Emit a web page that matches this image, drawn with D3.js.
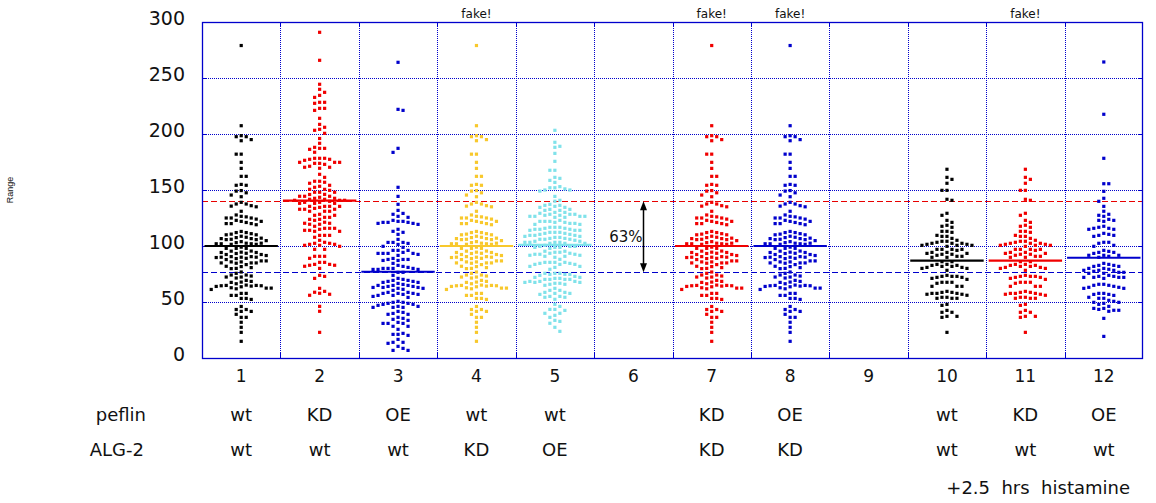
<!DOCTYPE html>
<html>
<head>
<meta charset="utf-8">
<script src="https://cdn.jsdelivr.net/npm/d3@7/dist/d3.min.js"></script>
<style>
  html, body { margin: 0; padding: 0; background: #fff; }
  svg { display: block; }
  text { font-family: "DejaVu Sans", sans-serif; fill: #111; }
</style>
</head>
<body>
<svg id="chart" width="1156" height="503"></svg>
<script>
// ---------- DATA ----------
const groups = ["1","2","3","4","5","6","7","8","9","10","11","12"];
const peflinRow = ["wt","KD","OE","wt","wt","","KD","OE","","wt","KD","OE"];
const alg2Row   = ["wt","wt","wt","KD","OE","","KD","KD","","wt","wt","wt"];
const fakeGroups = ["4","7","8","11"];
const yTicks = [0, 50, 100, 150, 200, 250, 300];
const meanValues = [100, 140.5, 77, 100, 101, null, 100, 100, null, 87, 87, 89.5];
const refHigh = 140;   // red dashed reference
const refLow = 76.5;   // blue dashed reference
const annotation = "63%";

const wtValues = [279, 207.4, 198.5, 197.6, 197.6, 194, 195, 182, 182, 174.7, 169.3, 162.2, 162.2, 155, 154.2, 154.2,
  149.5, 149, 147.5, 145.5, 144, 139, 137.5, 137.5, 136, 135.6, 135, 131, 127.7, 126, 125, 124, 125, 125, 126.5,
  122.9, 122, 120, 120, 119, 120, 121, 122, 112, 111, 110, 110.6, 112, 113, 110, 107.5, 107, 106.6, 105.7, 104.8,
  103.9, 105.7, 106, 106.6, 107.8, 108.7, 102.5, 101.5, 103, 102, 102, 101.5, 102, 102.5, 95.5, 94.2, 94.2, 93.3,
  92.4, 97.9, 97.9, 97.9, 99, 92.4, 93.5, 94.5, 95.4, 90.5, 90, 90, 90.5, 91.5, 90, 89, 86.7, 85.8, 83.4, 84.9, 84.9,
  84.9, 85.8, 86.7, 87.9, 84.6, 88.8, 89.7, 81.6, 80, 79.8, 80.7, 81.9, 75.6, 74.1, 72.3, 71.4, 72.3, 73.2, 74.1, 76.8,
  69.3, 67.5, 66.3, 64.5, 64.5, 63.6, 63.9, 64.2, 64.8, 64.8, 65.1, 67.8, 68.4, 62.4, 61.8, 61.2, 62.4, 62.7, 57.7,
  55.9, 53.2, 52.3, 53.2, 55.9, 57.7, 46, 41.6, 43.3, 43.3, 41.6, 39, 36.3, 36.3, 31.9, 27.4, 22.9, 14.9];

const peflinKDValues = [290.8, 265.8, 244.4, 237.2, 239.9, 234.5, 232.7, 228.3, 227.4, 228.3, 222.9, 221.1, 222.9, 214,
  208.6, 206, 204.2, 203.3, 200.6, 196, 191.7, 188.1, 187.2, 187.2, 186.3, 183.7,
  178.3, 178.3, 177.4, 176.5, 177.4, 178.3, 174.7, 173.8, 172.9, 170.3, 169.4, 170.3, 171.2, 173.8, 174.7, 174.7,
  164, 161.3, 157.8, 156, 156.9, 157.8, 154.2, 152.4, 150.6, 149.7, 150.6, 153.3,
  148, 146, 144.4, 144.4, 142.6, 142.6, 143.5, 144.4, 146.1, 148, 148,
  141.7, 140.8, 139, 138.1, 138.1, 138.1, 139, 139.9, 140.8, 140.8, 141.7,
  135.4, 134.5, 132.8, 132.8, 131, 131, 131, 132.8, 133.6, 135.4, 135.4, 135.4,
  128.3, 127.4, 125.6, 123.8, 122.9, 123.8, 125.6, 127.4,
  120.3, 119.4, 117.6, 115.8, 115.8, 115.8, 119.4, 120.3, 121.2,
  114, 113.1, 109.5, 109.5, 109.5, 113.1, 114, 114.9,
  107.8, 103.3, 102.4, 105.1, 100.6, 101.5, 102.4, 101.5, 100.6, 99.7, 97, 97,
  90.8, 89, 90.8, 90.8, 83.6, 82.8, 85.4, 85.4, 80, 81.9, 82.8, 83.6,
  73.8, 71.1, 72.9, 62.2, 59.5, 57.8, 56, 56.9, 58.7, 46.1, 41.7, 22.9];

const peflinOEValues = [264, 222, 221.1, 187.2, 183.6, 152.4, 144.3, 137.2,
  131.8, 128.3, 126.5, 129.1, 125.6,
  122.9, 122, 121.1, 120.2, 119.3, 120.2, 121.1, 121.1, 122,
  114.9, 112.2, 110.4, 113.1,
  105.9, 103.2, 102.3, 99.7, 98.8, 101.4, 103.2, 103.2,
  96.1, 94.3, 93.4, 92.5, 91.6, 93.4, 93.4, 93.4, 96.1, 96.1,
  88.9, 88, 87.1, 84.5, 87.1, 88, 88,
  82.7, 80.9, 80, 80, 79.1, 79.1, 79.1, 80, 80, 81.8, 76.5, 73.8, 76.5,
  70.2, 69.3, 68.4, 67.5, 66.6, 67.5, 68.4, 69.3, 71.1,
  64.8, 64.8, 63.9, 63, 62.2, 61.3, 60.4, 62.2, 63, 63, 63.9, 64.8, 65.7,
  57.7, 57.7, 56.8, 55.9, 55, 54.1, 55.9, 56.8, 57.7, 58.6, 58.6,
  49.7, 48.8, 47.9, 47, 47.9, 48.8, 49.7, 50.6, 46.1, 45.2, 46.1, 45.2, 45.2,
  41.6, 39.8, 39, 40.7, 39, 35.4, 34.5, 36.3, 30.9, 33.6, 31.8, 30.9, 28.3, 28.3, 30.9, 25.6,
  22, 21.1, 20.2, 21.1, 16.6, 14, 13.1, 14, 10.4, 6.8, 6.8, 8.6];

const alg2OEValues = [203.3, 192.6, 188.1, 189, 182.7, 175.6, 167.6, 167.6, 160.4, 158.6, 161.3, 156.8,
  153, 152, 151, 150, 152, 150, 149, 144.3,
  140, 140.8, 136.3, 135.4, 134.5, 132.7, 131.8, 137.2, 131.8, 132.7, 134.5, 136.3,
  130, 128.3, 127.4, 126.5, 126.5, 125.6, 125.6, 126.5, 127.4, 126.5, 128.3, 128.3, 129.2, 130,
  122, 122, 121.1, 120.2, 119.3, 119.3, 120.2, 121.1, 122, 122.9,
  116.7, 115.8, 114.9, 114, 114, 114, 114.9, 115.8, 114.9, 116.7, 116.7,
  112.2, 111.3, 109.5, 109.5, 108.6, 107.7, 107.7, 108.6, 109.5, 110.4, 110.4, 111.3, 112.2, 112.2,
  106.8, 106, 104.2, 103.3, 103.3, 102.4, 102.4, 102.4, 103.3, 103.3, 104.2, 105.1, 106, 106, 106.8,
  95.3, 94.4, 93.5, 92.6, 92.6, 99.7, 98.8, 100.6, 98.8, 99.7, 99.7, 98.8, 97.9, 94.4, 95.3,
  91.7, 90.8, 89.9, 90.8, 91.7, 92.6, 93.5,
  81.8, 80.9, 85.4, 84.5, 83.6, 83.6, 83.6, 84.5, 85.4, 85.4, 85.4, 79.2, 81.8, 88.1,
  75.6, 74.7, 74.7, 73.8, 72, 71.1, 70.2, 71.1, 72, 72.9, 74.7, 75.6, 75.6, 70.2, 70.2, 70.2,
  68.4, 68.4, 67.5, 66.7, 65.8, 64.9, 65.8, 66.7, 67.5, 67.5, 68.4,
  62.2, 60.4, 58.6, 57.7, 58.6, 60.4, 57.7, 56.8, 55, 54.2, 52.4, 54.2, 55,
  47.9, 46.1, 43.4, 43.4, 42.5, 39.9, 38.1, 39.9, 36.3, 33.6, 31, 32.7, 27.4, 23.8];

const histWtValues = [168.5, 161.3, 159.5, 156, 149.7, 149.7, 141.7, 140.8, 129.2, 127.4, 122.9, 121.1, 118.5,
  117.6, 116.7, 113.1, 113.1, 112.2, 109.5, 108.6, 108.6, 106.8, 105.1, 104.2, 104.2,
  103.3, 102.4, 102.4, 102.4, 101.5, 101.5, 100.6, 100.6, 100.6, 99.7,
  97, 97, 97, 97, 96.1, 94.3, 94.3, 93.4, 93.4, 92.6, 92.6, 91.7, 90.8, 90.8, 89.9, 89.9,
  86, 86, 83.6, 83.6, 82.7, 82.7, 81.8, 81.8, 80.9, 80.9, 80, 80, 78.3,
  73.8, 72.9, 72.9, 72.9, 72, 72, 71.1, 70.2, 67.6, 67.6, 67.6, 66.7, 64, 64, 64,
  59.5, 58.6, 58.6, 57.7, 57.7, 57.7, 56.9, 56.9, 56, 54.2, 54.2, 53.3, 53.3, 53.3,
  47.9, 47, 42.5, 40.8, 40.8, 37.2, 37.2, 36.3, 22.9];

const histOEValues = [264.3, 217.6, 178.3, 155.6, 155.6, 148.8, 142.6, 139.9, 135.4, 131, 128.3, 126.5, 127.4,
  122.9, 122, 122.9, 123.8, 117.6, 115.8, 114.9, 114.9, 115.8, 116.7, 110.4, 109.5, 108.6, 109.5, 111.3,
  103.3, 102.4, 100.6, 103.3, 99.7, 93.4, 91.7, 89.9, 90.8, 94.3, 95.2, 94.3, 91.7, 91.7, 96.1,
  80, 78.3, 77.4, 76.5, 75.6, 75.6, 76.5, 78.3, 78.3, 79.2, 80, 84.5, 82.7, 81.8, 81.8, 82.7, 83.6,
  72, 72, 72, 71.1, 72, 72.9, 72.9, 73.8, 65.8, 64.9, 63.1, 62.2, 62.2, 63.1, 64, 64.9, 65.8,
  57.7, 56.8, 55.9, 56.8, 57.7, 54.2, 53.3, 50.6, 49.7, 48.8, 49.7, 51.5, 53.3, 47.9,
  46.1, 44.3, 42.6, 41.7, 42.6, 43.4, 44.3, 35.4, 19.3];

// values per group (fake groups reuse the copied data)
const groupValues = [wtValues, peflinKDValues, peflinOEValues, wtValues, alg2OEValues, [],
  wtValues, wtValues, [], histWtValues, histWtValues, histOEValues];

// ---------- STYLE ----------
const groupColors = ["#000000", "#f00000", "#0000cc", "#f8c82c", "#80e2ea", "#000000",
  "#f00000", "#0000cc", "#000000", "#000000", "#f00000", "#0000cc"];
const gridBlue = "#0000cc";

// ---------- LAYOUT ----------
const svg = d3.select("#chart");
const L = 202, R = 1143, T = 22, B = 358;
const x = d3.scaleBand().domain(groups).range([L, R]).padding(0);
const y = d3.scaleLinear().domain([0, 300]).range([B, T]);
const bw = x.bandwidth();
const crisp = v => Math.round(v) + 0.5;

// horizontal grid (dotted)
svg.append("g").selectAll("line").data(yTicks.filter(t => t > 0 && t < 300)).join("line")
  .attr("x1", L).attr("x2", R).attr("y1", d => crisp(y(d))).attr("y2", d => crisp(y(d)))
  .attr("stroke", gridBlue).attr("stroke-width", 1).attr("stroke-dasharray", "1,1");
// vertical grid (dotted) at group boundaries
svg.append("g").selectAll("line").data(groups.slice(1)).join("line")
  .attr("x1", d => crisp(x(d))).attr("x2", d => crisp(x(d)))
  .attr("y1", T).attr("y2", B)
  .attr("stroke", gridBlue).attr("stroke-width", 1).attr("stroke-dasharray", "1,1");

// inward ticks
const tk = svg.append("g").attr("stroke", gridBlue).attr("stroke-width", 1);
yTicks.forEach(t => {
  const yy = crisp(y(t));
  tk.append("line").attr("x1", L).attr("x2", L + 5).attr("y1", yy).attr("y2", yy);
  tk.append("line").attr("x1", R - 5).attr("x2", R).attr("y1", yy).attr("y2", yy);
});
groups.slice(1).forEach(g => {
  const xx = crisp(x(g));
  tk.append("line").attr("x1", xx).attr("x2", xx).attr("y1", B - 5).attr("y2", B);
  tk.append("line").attr("x1", xx).attr("x2", xx).attr("y1", T).attr("y2", T + 5);
});

// reference dashed lines
svg.append("line").attr("x1", L).attr("x2", R).attr("y1", crisp(y(refHigh))).attr("y2", crisp(y(refHigh)))
  .attr("stroke", "#e80000").attr("stroke-width", 1).attr("stroke-dasharray", "6,3");
svg.append("line").attr("x1", L).attr("x2", R).attr("y1", crisp(y(refLow))).attr("y2", crisp(y(refLow)))
  .attr("stroke", gridBlue).attr("stroke-width", 1).attr("stroke-dasharray", "6,3");

// beeswarm layout
const STEP = 5, MINDY = 4.6, DOT = 3.2;
function swarm(vals) {
  const pts = vals.map(v => ({ v, y: y(v) })).sort((a, b) => a.y - b.y);
  const placed = [];
  let toggle = 1;
  for (const p of pts) {
    for (let k = 0; k < 40; k++) {
      const cands = k === 0 ? [0] : (toggle > 0 ? [k, -k] : [-k, k]);
      let ok = null;
      for (const s of cands) {
        if (!placed.some(q => q.s === s && Math.abs(q.y - p.y) < MINDY)) { ok = s; break; }
      }
      if (ok !== null) { p.s = ok; if (ok !== 0) toggle = -toggle; placed.push(p); break; }
    }
  }
  return pts;
}

groups.forEach((g, i) => {
  const vals = groupValues[i];
  if (!vals.length) return;
  const cx = x(g) + bw / 2;
  const pts = swarm(vals);
  svg.append("g").selectAll("rect").data(pts).join("rect")
    .attr("x", d => cx + d.s * STEP - DOT / 2)
    .attr("y", d => d.y - DOT / 2)
    .attr("width", DOT).attr("height", DOT)
    .attr("fill", groupColors[i]);
});

// mean lines
groups.forEach((g, i) => {
  const m = meanValues[i];
  if (m == null) return;
  svg.append("line")
    .attr("x1", x(g) + 2.5).attr("x2", x(g) + bw - 2.5)
    .attr("y1", y(m)).attr("y2", y(m))
    .attr("stroke", groupColors[i]).attr("stroke-width", 2.2);
});

// plot border
svg.append("rect").attr("x", L + 0.5).attr("y", T + 0.5).attr("width", R - L - 1).attr("height", B - T)
  .attr("fill", "none").attr("stroke", gridBlue).attr("stroke-width", 1.3);

// y tick labels
svg.append("g").selectAll("text").data(yTicks).join("text")
  .attr("x", 185).attr("y", d => y(d) + 2.5)
  .attr("text-anchor", "end").attr("font-size", 19).text(d => d);

// y axis title
svg.append("text").attr("transform", "translate(13,190) rotate(-90)")
  .attr("text-anchor", "middle").attr("font-size", 9)
  .style("font-family", "'Liberation Sans', Arial, sans-serif").text("Range");

// x tick labels
svg.append("g").selectAll("text").data(groups).join("text")
  .attr("x", d => x(d) + bw / 2).attr("y", 382)
  .attr("text-anchor", "middle").attr("font-size", 17).text(d => d);

// row labels
svg.append("text").attr("x", 146).attr("y", 421).attr("text-anchor", "end").attr("font-size", 18).text("peflin");
svg.append("text").attr("x", 144).attr("y", 456).attr("text-anchor", "end").attr("font-size", 18).text("ALG-2");
svg.append("g").selectAll("text").data(groups).join("text")
  .attr("x", d => x(d) + bw / 2).attr("y", 421)
  .attr("text-anchor", "middle").attr("font-size", 18).text((d, i) => peflinRow[i]);
svg.append("g").selectAll("text").data(groups).join("text")
  .attr("x", d => x(d) + bw / 2).attr("y", 456)
  .attr("text-anchor", "middle").attr("font-size", 18).text((d, i) => alg2Row[i]);

svg.append("text").attr("x", 1130).attr("y", 494).attr("text-anchor", "end").attr("font-size", 18)
  .style("white-space", "pre").text("+2.5  hrs  histamine");

// fake! labels
svg.append("g").selectAll("text").data(fakeGroups).join("text")
  .attr("x", d => x(d) + bw / 2).attr("y", 18)
  .attr("text-anchor", "middle").attr("font-size", 12).text("fake!");

// 63% annotation with double arrow
const ax = Math.round(x("6") + bw / 2 + 10) + 0.5;
const ya = y(refHigh), yb = y(refLow);
svg.append("line").attr("x1", ax).attr("x2", ax).attr("y1", ya + 6).attr("y2", yb - 6)
  .attr("stroke", "#000").attr("stroke-width", 1.5);
svg.append("path").attr("d", `M${ax},${ya} L${ax - 3.5},${ya + 9} L${ax + 3.5},${ya + 9} Z`).attr("fill", "#000");
svg.append("path").attr("d", `M${ax},${yb} L${ax - 3.5},${yb - 9} L${ax + 3.5},${yb - 9} Z`).attr("fill", "#000");
svg.append("text").attr("x", ax - 1).attr("y", 242).attr("text-anchor", "end").attr("font-size", 15).text(annotation);
</script>
</body>
</html>
